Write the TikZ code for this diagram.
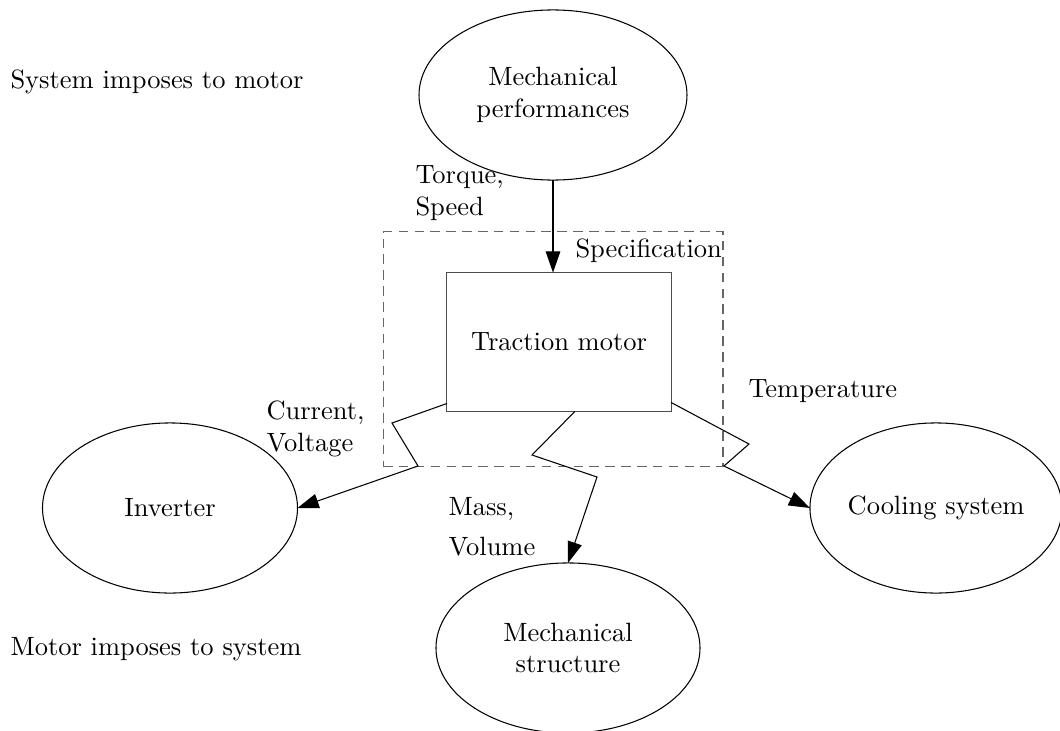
\documentclass[tikz,border=0pt]{standalone}
\usetikzlibrary{positioning,arrows.meta,shapes.geometric}

\begin{document}
\begin{tikzpicture}[x=0.378pt,y=-0.378pt,
      blob/.style={draw,ellipse,inner sep=0pt,outer sep=0pt,minimum height=64.3pt,align=center},
      box/.style={draw=black!70,minimum width=84.7pt,minimum height=52.5pt,inner sep=0pt,outer sep=0pt},
      frame/.style={draw=black!60,dash pattern=on 3.6pt off 2.4pt,minimum width=128.5pt,minimum height=88.5pt,inner sep=0pt,outer sep=0pt},
      lbl/.style={anchor=base west,inner sep=0pt,align=left},
      arr/.style={-{Triangle[length=8pt,width=5.5pt]}}]
    \useasboundingbox (0,0) rectangle (1060,731);
    \node[frame] (spec) at (553,349) {};
    \node[box] (motor) at (559,342) {Traction motor};
    \node[blob,minimum width=101.3pt] (perf) at (553,95) {Mechanical\\ performances};
    \node[blob,minimum width=96.4pt] (inv) at (170,508) {Inverter};
    \node[blob,minimum width=95.3pt] (cool) at (936,508) {Cooling system};
    \node[blob,minimum width=99.8pt] (struct) at (568,648) {Mechanical\\ structure};
    % labels (base = last line)
    \node[lbl] (sysmot) at (10,88) {System imposes to motor};
    \node[lbl] (motsys) at (10,655) {Motor imposes to system};
    \node[lbl] (tq) at (415,215) {Torque,\\ Speed};
    \node[lbl] (speclbl) at (575,257) {Specification};
    \node[lbl] (cv) at (266,451) {Current,\\ Voltage};
    \node[lbl] (temp) at (748,397) {Temperature};
    \node[lbl] (mv) at (448,555) {Mass,\\[3pt] Volume};
    % connectors
    \draw[arr] (perf) -- (perf |- motor.north);
    \draw[arr] ([yshift=3pt]motor.south west) -- (392,423) -- (418,466) -- (inv.east);
    \draw[arr] ([xshift=6pt]motor.south) -- (532,455) -- (597,477) -- (struct.north);
    \draw[arr] ([yshift=3.4pt]motor.south east) -- (749,444) -- (724,466) -- (cool.west);
\end{tikzpicture}
\end{document}
